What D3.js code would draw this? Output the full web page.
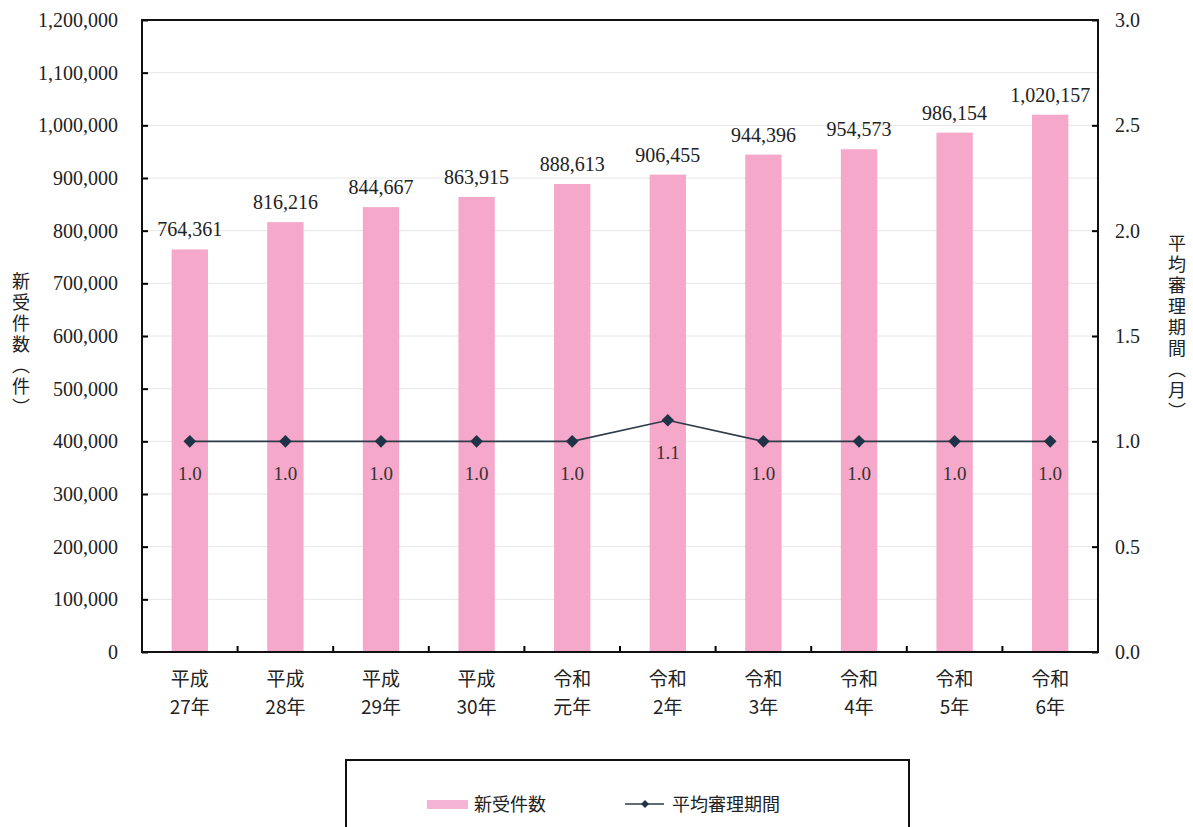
<!DOCTYPE html>
<html><head><meta charset="utf-8">
<script src="https://cdn.jsdelivr.net/npm/d3@7"></script>
<style>body{margin:0;background:#fff}svg{display:block}</style>
</head><body>
<svg id="c" width="1193" height="827"></svg>
<script>
const categories1 = ["平成","平成","平成","平成","令和","令和","令和","令和","令和","令和"];
const categories2 = ["27年","28年","29年","30年","元年","2年","3年","4年","5年","6年"];
const newCases = [764361,816216,844667,863915,888613,906455,944396,954573,986154,1020157];
const avgPeriod = [1.0,1.0,1.0,1.0,1.0,1.1,1.0,1.0,1.0,1.0];
const leftTicks = d3.range(0,1200001,100000);
const rightTicks = [0,0.5,1.0,1.5,2.0,2.5,3.0];
const leftTitle = "新受件数（件）";
const rightTitle = "平均審理期間（月）";

const svg = d3.select("#c");
const L=142,R=1098,T=20,B=652;
const serif = "'Liberation Serif','DejaVu Serif',serif";
const cjk = "'Noto Sans CJK JP','Noto Sans',sans-serif";
const idx = d3.range(categories2.length);
const x = d3.scaleBand().domain(idx).range([L,R]).paddingInner(0.62).paddingOuter(0.31);
const cx = i => x(i)+x.bandwidth()/2;
const y = d3.scaleLinear().domain([0,1200000]).range([B,T]);
const y2 = d3.scaleLinear().domain([0,3]).range([B,T]);

// grid
svg.append("g").selectAll("line").data(leftTicks.slice(1,-1)).join("line")
  .attr("x1",L).attr("x2",R).attr("y1",d=>y(d)).attr("y2",d=>y(d))
  .attr("stroke","#e6e6e6").attr("stroke-width",1);

// bars
svg.append("g").selectAll("rect").data(newCases).join("rect")
  .attr("x",(d,i)=>x(i)).attr("width",x.bandwidth())
  .attr("y",d=>y(d)).attr("height",d=>B-y(d)).attr("fill","#f5a8c9");

// bar labels
const fmt = d3.format(",");
svg.append("g").selectAll("text").data(newCases).join("text")
  .attr("x",(d,i)=>cx(i)).attr("y",d=>y(d)-13)
  .attr("text-anchor","middle").attr("font-family",serif).attr("font-size",20)
  .attr("fill","#222").text(d=>fmt(d));

// axes
const gl = svg.append("g").attr("transform",`translate(${L},0)`)
  .call(d3.axisRight(y).tickValues(leftTicks).tickSize(6).tickFormat(""));
gl.select(".domain").remove();
gl.selectAll("line").attr("stroke","#000").attr("stroke-width",2);
svg.append("g").selectAll("text").data(leftTicks).join("text")
  .attr("x",118).attr("y",d=>y(d)+7).attr("text-anchor","end")
  .attr("font-family",serif).attr("font-size",20).attr("fill","#222").text(d=>fmt(d));

const gr = svg.append("g").attr("transform",`translate(${R},0)`)
  .call(d3.axisLeft(y2).tickValues(rightTicks).tickSize(6).tickFormat(""));
gr.select(".domain").remove();
gr.selectAll("line").attr("stroke","#000").attr("stroke-width",2);
svg.append("g").selectAll("text").data(rightTicks).join("text")
  .attr("x",1115).attr("y",d=>y2(d)+7).attr("text-anchor","start")
  .attr("font-family",serif).attr("font-size",20).attr("fill","#222").text(d=>d.toFixed(1));

// bottom ticks between categories
const xb = d3.scaleLinear().domain([0,categories2.length]).range([L,R]);
svg.append("g").selectAll("line").data(d3.range(1,categories2.length)).join("line")
  .attr("x1",d=>xb(d)).attr("x2",d=>xb(d)).attr("y1",B).attr("y2",B-6)
  .attr("stroke","#000").attr("stroke-width",2);

// frame
svg.append("rect").attr("x",L).attr("y",T).attr("width",R-L).attr("height",B-T)
  .attr("fill","none").attr("stroke","#111").attr("stroke-width",2);

// x labels
const xl = svg.append("g");
xl.selectAll("text.a").data(categories1).join("text").attr("class","a")
  .attr("x",(d,i)=>cx(i)).attr("y",686).attr("text-anchor","middle")
  .attr("font-family",cjk).attr("font-size",19).attr("fill","#222").text(d=>d);
xl.selectAll("text.b").data(categories2).join("text").attr("class","b")
  .attr("x",(d,i)=>cx(i)).attr("y",714).attr("text-anchor","middle")
  .attr("font-family",cjk).attr("font-size",19).attr("fill","#222").text(d=>d);

// line
const line = d3.line().x((d,i)=>cx(i)).y(d=>y2(d));
svg.append("path").datum(avgPeriod).attr("d",line).attr("fill","none")
  .attr("stroke","#2d3b48").attr("stroke-width",1.6);
const diamond = d3.symbol().type(d3.symbolSquare).size(80);
svg.append("g").selectAll("path").data(avgPeriod).join("path")
  .attr("d",diamond).attr("transform",(d,i)=>`translate(${cx(i)},${y2(d)}) rotate(45)`)
  .attr("fill","#1f3346");
svg.append("g").selectAll("text").data(avgPeriod).join("text")
  .attr("x",(d,i)=>cx(i)).attr("y",d=>y2(d)+39)
  .attr("text-anchor","middle").attr("font-family",serif).attr("font-size",19)
  .attr("fill","#333").text(d=>d.toFixed(1));

// axis titles (vertical writing)
function vtitle(str, xc, top){
  svg.append("text").attr("x",xc).attr("y",top)
    .attr("style","writing-mode: vertical-rl; letter-spacing: 3px;")
    .attr("font-family",cjk).attr("font-size",18)
    .attr("fill","#222").text(str);
}
vtitle(leftTitle, 21, 272);
vtitle(rightTitle, 1177, 234);

// legend
svg.append("rect").attr("x",346).attr("y",760).attr("width",563).attr("height",80)
  .attr("fill","#fff").attr("stroke","#111").attr("stroke-width",2);
svg.append("rect").attr("x",427).attr("y",800).attr("width",41).attr("height",9).attr("fill","#f5b3d6");
svg.append("text").attr("x",474).attr("y",811).attr("font-family",cjk).attr("font-size",18)
  .attr("fill","#222").text("新受件数");
svg.append("line").attr("x1",625).attr("x2",664).attr("y1",804).attr("y2",804)
  .attr("stroke","#2d3b48").attr("stroke-width",1.6);
svg.append("path").attr("d",d3.symbol().type(d3.symbolSquare).size(32)).attr("transform","translate(645,804) rotate(45)").attr("fill","#1f3346");
svg.append("text").attr("x",672).attr("y",811).attr("font-family",cjk).attr("font-size",18)
  .attr("fill","#222").text("平均審理期間");
</script>
</body></html>
